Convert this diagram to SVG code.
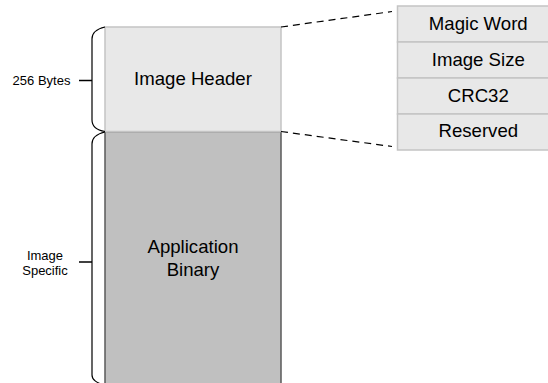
<svg xmlns="http://www.w3.org/2000/svg" width="548" height="383" viewBox="0 0 548 383">
  <style>
    .lbl { font-family: "Liberation Sans", Arial, sans-serif; fill: #000; text-anchor: middle; }
    .big { font-size: 18.6px; }
    .small { font-size: 13px; }
    .hdr { fill: #e8e8e8; stroke: #c4c4c4; stroke-width: 1.5; }
    .bin { fill: #c0c0c0; stroke: #5a5a5a; stroke-width: 1.5; }
    .brace { fill: none; stroke: #000; stroke-width: 1.2; }
    .tick { stroke: #000; stroke-width: 1.5; }
    .dash { fill: none; stroke: #000; stroke-width: 1.2; stroke-dasharray: 7 5; }
  </style>
  <rect width="548" height="383" fill="#fff"/>

  <!-- application binary block -->
  <g id="app-binary">
    <rect class="bin" x="105" y="131.5" width="176" height="260"/>
    <text class="lbl big" x="193" y="253">Application</text>
    <text class="lbl big" x="193" y="275.5">Binary</text>
  </g>

  <!-- image header block -->
  <g id="image-header">
    <rect class="hdr" x="105" y="27" width="176" height="104.5"/>
    <text class="lbl big" x="193" y="85">Image Header</text>
  </g>

  <!-- header field breakdown -->
  <g id="header-fields">
    <rect class="hdr" x="397.5" y="6" width="162" height="36"/>
    <rect class="hdr" x="397.5" y="42" width="162" height="36"/>
    <rect class="hdr" x="397.5" y="78" width="162" height="36"/>
    <rect class="hdr" x="397.5" y="114" width="162" height="36"/>
    <text class="lbl big" x="478.3" y="30">Magic Word</text>
    <text class="lbl big" x="478.3" y="65.8">Image Size</text>
    <text class="lbl big" x="478.3" y="101.7">CRC32</text>
    <text class="lbl big" x="478.3" y="136.8">Reserved</text>
  </g>

  <!-- size annotations -->
  <g id="size-header">
    <path class="brace" d="M105,27 C96,29 92,33 92,39 L92,120 C92,126 96,130 105,131.5"/>
    <line class="tick" x1="79" y1="80.5" x2="92" y2="80.5"/>
    <text class="lbl small" x="41.5" y="85" style="text-anchor:middle">256 Bytes</text>
  </g>
  <g id="size-binary">
    <path class="brace" d="M105,132 C96,134 92,138 92,144 L92,375 C92,380 96,382 105,386"/>
    <line class="tick" x1="79" y1="262" x2="92" y2="262"/>
    <text class="lbl small" x="45" y="260">Image</text>
    <text class="lbl small" x="45" y="274.5">Specific</text>
  </g>

  <!-- zoom-out connectors -->
  <g id="connectors">
    <line class="dash" x1="281" y1="27" x2="392" y2="11.5"/>
    <line class="dash" x1="281" y1="131.5" x2="392" y2="146.5"/>
  </g>
</svg>
